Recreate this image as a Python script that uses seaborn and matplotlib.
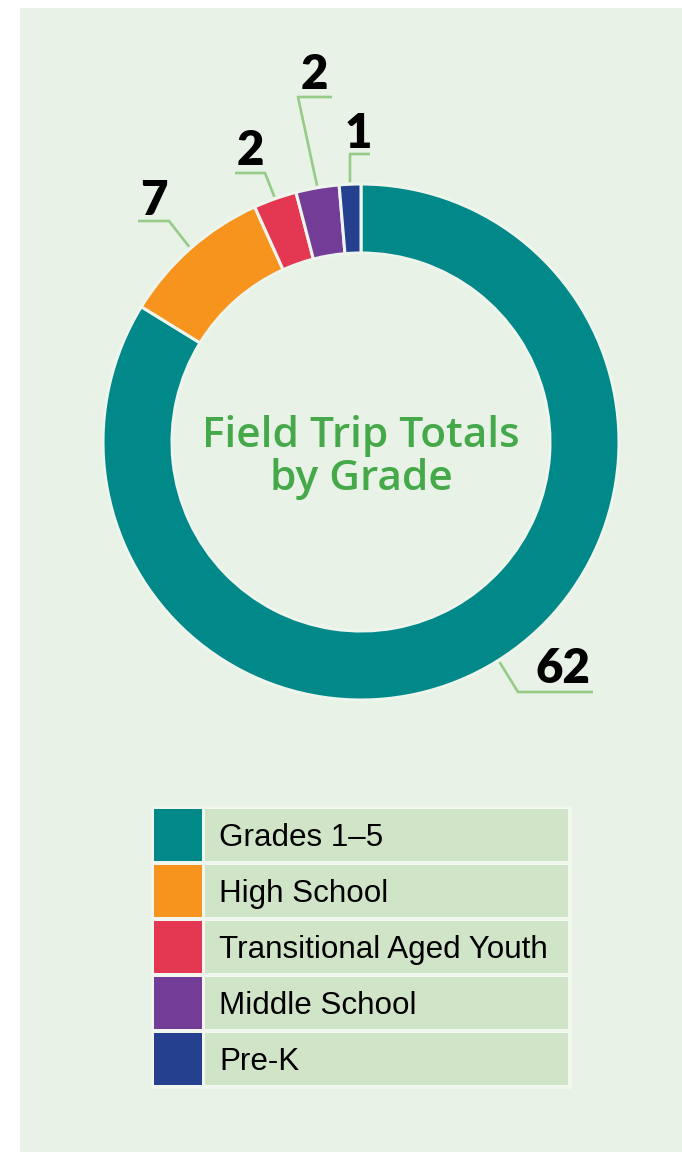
import matplotlib
matplotlib.use('Agg')
import matplotlib.pyplot as plt
import seaborn as sns
import numpy as np
from matplotlib.patches import Rectangle

# ---- data ----
categories = ['Grades 1–5', 'High School', 'Transitional Aged Youth', 'Middle School', 'Pre-K']
values = [62, 7, 2, 2, 1]
value_labels = ['62', '7', '2', '2', '1']
colors = ['#01898A', '#F7941E', '#E43751', '#733C97', '#24408E']
title_lines = ['Field Trip Totals', 'by Grade']

sns.set_theme(style='white')
plt.rcParams['font.family'] = ['Lato', 'DejaVu Sans']

W, H = 682, 1152
fig = plt.figure(figsize=(W / 100, H / 100), dpi=100, facecolor='white')
ax = fig.add_axes([0, 0, 1, 1])


def Y(y):
    return H - y


# panel background
ax.add_patch(Rectangle((20, Y(1152)), W - 20, 1144, facecolor='#E8F2E6', edgecolor='none', zorder=0))

palette = sns.color_palette(colors)
cx, cy, R, ring = 361, 442, 258, 69
wedges, _ = ax.pie(values, colors=palette, startangle=90, counterclock=False,
                   radius=R, center=(cx, Y(cy)), frame=True,
                   wedgeprops=dict(width=ring, edgecolor='#EEF5EC', linewidth=2.2))
for w in wedges:
    w.set_zorder(2)

# leader lines / value labels (layout: angle nudge, elbow, end, text baseline in pixel coords)
layout = [
    (3, (518, 692), (593, 692), (563, 683)),
    (0, (169, 221), (138, 221), (154, 215)),
    (0, (265, 173), (235, 173), (250, 165)),
    (0, (298, 97), (332, 97), (314, 89)),
    (0, (350, 154), (370, 154), (358, 148)),
]
for w, lab, (nudge, elb, end, txt) in zip(wedges, value_labels, layout):
    th = np.deg2rad((w.theta1 + w.theta2) / 2 + nudge)
    sx = cx + (R + 2) * np.cos(th)
    sy = Y(cy) + (R + 2) * np.sin(th)
    ax.plot([sx, elb[0], end[0]], [sy, Y(elb[1]), Y(end[1])], color='#96CB88', lw=1.9,
            solid_capstyle='butt', zorder=1)
    ax.text(txt[0], Y(txt[1]), lab, ha='center', va='baseline', fontsize=34,
            fontweight='heavy', color='black', zorder=3)

# centre title
for line, base in zip(title_lines, [447, 490]):
    ax.text(cx, Y(base), line, ha='center', va='baseline', fontsize=30.5,
            fontweight='semibold', family=['Open Sans', 'DejaVu Sans'],
            color='#45A94A', zorder=3)

# legend table
ax.add_patch(Rectangle((151, Y(1089)), 421, 283, facecolor='#F1F6EF', edgecolor='none', zorder=1))
for i, (cat, col) in enumerate(zip(categories, palette)):
    top = 809 + 56 * i
    hgt = 51.7
    ax.add_patch(Rectangle((154, Y(top + hgt)), 47.7, hgt, facecolor=col, edgecolor='none', zorder=2))
    ax.add_patch(Rectangle((205, Y(top + hgt)), 363.3, hgt, facecolor='#D0E4C8', edgecolor='none', zorder=2))
    ax.text(219, Y(top + 37), cat, ha='left', va='baseline', fontsize=22.6,
            family=['Liberation Sans', 'DejaVu Sans'], color='black', zorder=3)

ax.set_xlim(0, W)
ax.set_ylim(0, H)
ax.set_aspect('equal')
ax.axis('off')

fig.savefig('out.png', dpi=100, facecolor='white')
